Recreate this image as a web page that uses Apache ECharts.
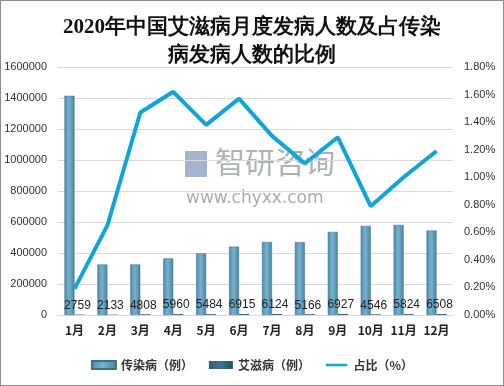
<!DOCTYPE html>
<html><head><meta charset="utf-8">
<script src="https://cdn.jsdelivr.net/npm/echarts@6/dist/echarts.min.js"></script>
<style>html,body{margin:0;padding:0;background:#fff}#c{width:502px;height:384px;border:1px solid #8c8c8c}</style>
</head><body><div id="c"></div>
<script>
var categories = ['1月','2月','3月','4月','5月','6月','7月','8月','9月','10月','11月','12月'];
var infectious = [1414000, 326000, 326000, 365000, 397000, 441000, 471000, 470000, 536000, 575000, 581000, 545000];
var aids = [2759, 2133, 4808, 5960, 5484, 6915, 6124, 5166, 6927, 4546, 5824, 6508];
var ratio = [0.19, 0.65, 1.47, 1.62, 1.38, 1.57, 1.30, 1.10, 1.29, 0.79, 1.00, 1.19];
var leftTicks = [0, 1600000, 200000];
var rightTicks = [0, 1.8, 0.2];

var chart = echarts.init(document.getElementById('c'));
var barGrad = new echarts.graphic.LinearGradient(0,0,1,0,[
  {offset:0,color:'#4f88a6'},{offset:0.45,color:'#75b3d1'},{offset:1,color:'#4a83a0'}]);
var aidsGrad = new echarts.graphic.LinearGradient(0,0,1,0,[
  {offset:0,color:'#2f5d78'},{offset:0.5,color:'#3f7391'},{offset:1,color:'#274f67'}]);
chart.setOption({
  animation:false,
  title:{text:'2020年中国艾滋病月度发病人数及占传染\n病发病人数的比例',left:'center',top:8,
    textStyle:{fontFamily:'serif',fontSize:21,fontWeight:'bold',color:'#111',lineHeight:28}},
  graphic:[
    {type:'text',left:214,top:146,style:{text:'智研咨询',fontSize:30,fill:'#8e98a4',fontFamily:'Noto Sans CJK SC',opacity:0.75}},
    {type:'rect',left:184,top:150,shape:{width:22,height:26},style:{fill:'#7f93b8',opacity:0.7}},
    {type:'text',left:185,top:189,style:{text:'www.chyxx.com',fontSize:17,fill:'#8e98a4',fontFamily:'DejaVu Sans',opacity:0.8}}
  ],
  grid:{left:57,right:50,top:66,bottom:70,containLabel:false},
  legend:{bottom:9,left:'center',itemGap:16,itemWidth:24,itemHeight:8,
    textStyle:{fontSize:12,fontWeight:'bold',color:'#333',fontFamily:'Noto Sans CJK SC'},
    data:[{name:'传染病（例）',icon:'rect'},{name:'艾滋病（例）',icon:'rect'},
      {name:'占比（%）',icon:'path://M0,3h24v3h-24z M0,0h0.01v0.01h-0.01z M0,9h0.01v0.01h-0.01z'}]},
  xAxis:{type:'category',data:categories,axisTick:{show:false},
    axisLine:{lineStyle:{color:'#d9d9d9'}},
    axisLabel:{interval:0,fontSize:12,fontWeight:'bold',color:'#222',margin:9,fontFamily:'Noto Sans CJK SC'}},
  yAxis:[
    {type:'value',min:leftTicks[0],max:leftTicks[1],interval:leftTicks[2],
     axisLabel:{fontSize:11,color:'#333',margin:11,formatter:function(v){return String(v);}},
     splitLine:{lineStyle:{color:'#d9d9d9'}},axisLine:{show:false},axisTick:{show:false}},
    {type:'value',min:rightTicks[0],max:rightTicks[1],interval:rightTicks[2],
     axisLabel:{fontSize:11,color:'#333',margin:11,formatter:function(v){return v.toFixed(2)+'%';}},
     splitLine:{show:false},axisLine:{show:false},axisTick:{show:false}}
  ],
  series:[
    {name:'传染病（例）',type:'bar',data:infectious,barWidth:10,barGap:'0%',
     itemStyle:{color:barGrad,borderColor:'#3d6f8a',borderWidth:0.5}},
    {name:'艾滋病（例）',type:'bar',data:aids,barWidth:10,
     itemStyle:{color:aidsGrad},
     label:{show:true,position:'top',distance:3,fontSize:12,color:'#222',offset:[-2,0],fontFamily:'Liberation Sans'}},
    {name:'占比（%）',type:'line',yAxisIndex:1,data:ratio,symbol:'none',
     lineStyle:{color:'#0ea5dc',width:4},itemStyle:{color:'#0ea5dc'}}
  ]
});
</script></body></html>
